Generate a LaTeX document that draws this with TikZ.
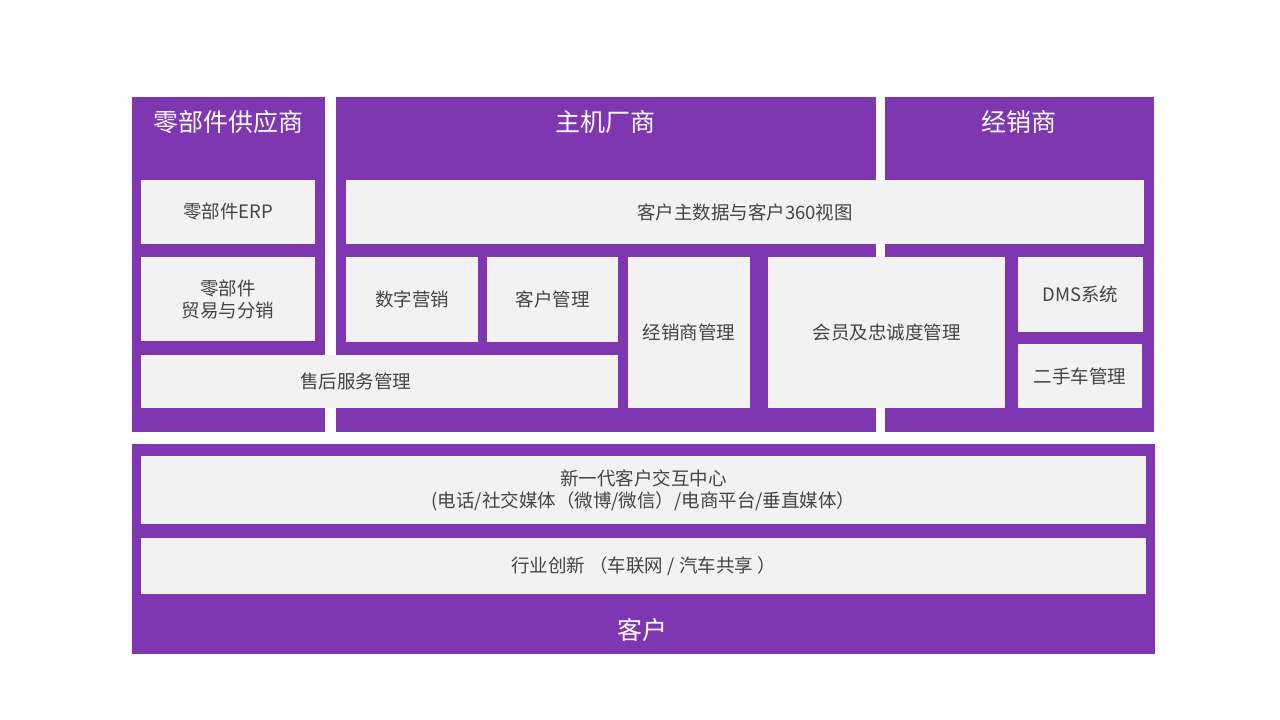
\documentclass[tikz,border=0pt]{standalone}
\usepackage{fontspec}
\setmainfont{Noto Sans CJK SC}
\usepackage{xcolor}
\usetikzlibrary{positioning}
\definecolor{panelpurple}{HTML}{7E36B1}
\definecolor{boxgray}{HTML}{F2F2F2}
\definecolor{textgray}{HTML}{444444}

\begin{document}
\begin{tikzpicture}[
    x=1pt, y=-1pt,
    panel/.style={fill=panelpurple, draw=none, inner sep=0pt},
    box/.style={fill=boxgray, draw=none, inner sep=0pt, text=textgray,
                font=\fontsize{18.5}{22}\selectfont, align=center},
    title/.style={text=white, font=\fontsize{25}{30}\selectfont}
]
    \fill[white] (0,0) rectangle (1280,720);
    \useasboundingbox (0,0) rectangle (1280,720);

    % Purple panels
    \node[panel, minimum width=193pt, minimum height=335pt] (sup) at (228.5, 264.5) {};
    \node[panel, minimum width=540pt, minimum height=335pt] (oem) at (606, 264.5) {};
    \node[panel, minimum width=269pt, minimum height=335pt] (dlr) at (1019.5, 264.5) {};
    \node[panel, minimum width=1023pt, minimum height=210pt] (cust) at (643.5, 549) {};

    % Panel titles
    \node[title] (suptitle) at (228, 122) {零部件供应商};
    \node[title] (oemtitle) at (605, 122) {主机厂商};
    \node[title] (dlrtitle) at (1019, 122) {经销商};
    \node[title] (custtitle) at (642, 630) {客户};

    % Supplier boxes
    \node[box, minimum width=174pt, minimum height=64pt] (erp) at (228, 212) {零部件ERP};
    \node[box, minimum width=174pt, minimum height=84pt] (trade) at (228, 299) {零部件\\贸易与分销};
    \node[box, minimum width=477pt, minimum height=53pt] (after) at (379.5, 381.5) {};
    \node[box, fill=none] (aftertext) at ([xshift=-24pt]after.center) {售后服务管理};

    % OEM and dealer boxes
    \node[box, minimum width=798pt, minimum height=64pt] (mdm) at (745, 212) {客户主数据与客户360视图};
    \node[box, minimum width=132pt, minimum height=85pt] (digi) at (412, 299.5) {数字营销};
    \node[box, minimum width=131pt, minimum height=85pt] (crm) at (552.5, 299.5) {客户管理};
    \node[box, minimum width=122pt, minimum height=151pt] (dm) at (689, 332.5) {经销商管理};
    \node[box, minimum width=237pt, minimum height=151pt] (loyal) at (886.5, 332.5) {会员及忠诚度管理};
    \node[box, minimum width=125pt, minimum height=75pt] (dms) at (1080.5, 294.5) {DMS系统};
    \node[box, minimum width=124pt, minimum height=64pt] (used) at (1080, 376) {二手车管理};

    % Customer boxes
    \node[box, minimum width=1005pt, minimum height=68pt] (cic) at (643.5, 490)
        {新一代客户交互中心\\(电话/社交媒体（微博/微信）/电商平台/垂直媒体）};
    \node[box, minimum width=1005pt, minimum height=56pt] (innov) at (643.5, 566)
        {行业创新 （车联网 / 汽车共享 ）};
\end{tikzpicture}
\end{document}
